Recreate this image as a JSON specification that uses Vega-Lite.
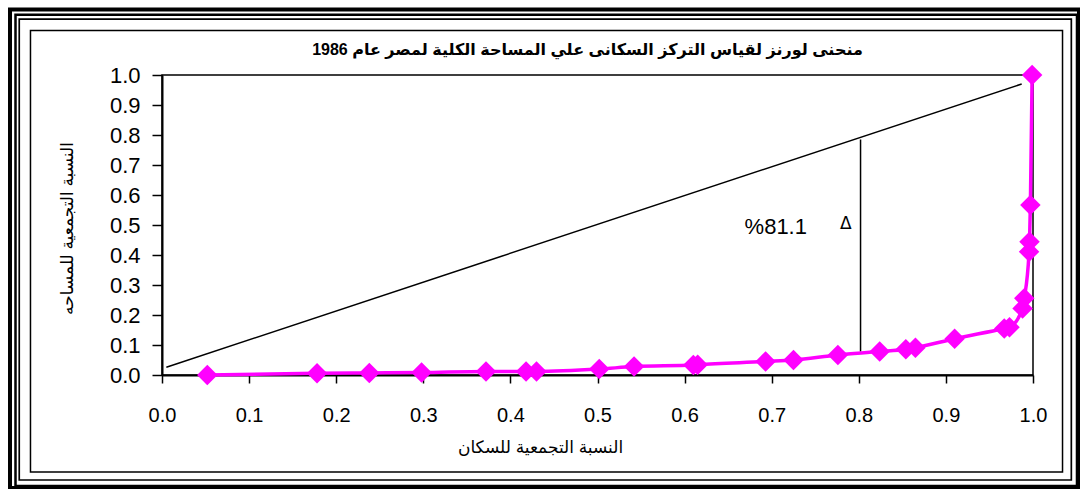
{
  "$schema": "https://vega.github.io/schema/vega-lite/v6.json",
  "width": 871,
  "height": 300,
  "autosize": {"type": "none"},
  "padding": {"left": 162, "top": 75, "right": 47, "bottom": 114},
  "background": "white",
  "title": {
    "text": "منحنى لورنز لقياس التركز السكانى علي المساحة الكلية لمصر عام  1986",
    "font": "Liberation Sans, DejaVu Sans",
    "fontSize": 16,
    "fontWeight": "bold",
    "color": "black",
    "anchor": "middle",
    "frame": "group",
    "baseline": "middle",
    "offset": -58.5,
    "dx": -10
  },
  "datasets": {
    "curve": [
      {"i": 1, "x": 0.052, "y": 0.000},
      {"i": 2, "x": 0.178, "y": 0.006},
      {"i": 3, "x": 0.238, "y": 0.007},
      {"i": 4, "x": 0.298, "y": 0.008},
      {"i": 5, "x": 0.372, "y": 0.012},
      {"i": 6, "x": 0.418, "y": 0.012},
      {"i": 7, "x": 0.430, "y": 0.012},
      {"i": 8, "x": 0.502, "y": 0.020},
      {"i": 9, "x": 0.542, "y": 0.028},
      {"i": 10, "x": 0.610, "y": 0.033},
      {"i": 11, "x": 0.615, "y": 0.034},
      {"i": 12, "x": 0.693, "y": 0.045},
      {"i": 13, "x": 0.725, "y": 0.050},
      {"i": 14, "x": 0.776, "y": 0.067},
      {"i": 15, "x": 0.824, "y": 0.078},
      {"i": 16, "x": 0.854, "y": 0.086},
      {"i": 17, "x": 0.865, "y": 0.091},
      {"i": 18, "x": 0.910, "y": 0.121},
      {"i": 19, "x": 0.967, "y": 0.155},
      {"i": 20, "x": 0.973, "y": 0.159},
      {"i": 21, "x": 0.988, "y": 0.222},
      {"i": 22, "x": 0.990, "y": 0.256},
      {"i": 23, "x": 0.9955, "y": 0.411},
      {"i": 24, "x": 0.996, "y": 0.444},
      {"i": 25, "x": 0.997, "y": 0.567},
      {"i": 26, "x": 0.999, "y": 1.000}
    ],
    "diag": [
      {"x": 0.005, "y": 0.026},
      {"x": 0.987, "y": 0.970}
    ],
    "drop": [
      {"x": 0.802, "y": 0.078, "y2": 0.785}
    ],
    "pct": [
      {"x": 0.7405, "y": 0.493, "label": "%81.1"}
    ],
    "delta": [
      {"x": 0.785, "y": 0.505, "label": "Δ"}
    ]
  },
  "resolve": {"scale": {"x": "independent", "y": "independent"}, "axis": {"x": "independent", "y": "independent"}},
  "layer": [
    {
      "data": {"values": [{}]},
      "mark": {"type": "rect", "filled": false, "stroke": "black", "strokeWidth": 4, "clip": false},
      "encoding": {
        "x": {"datum": -0.1745, "type": "quantitative", "scale": {"domain": [0, 1], "nice": false, "zero": false}, "axis": null},
        "x2": {"datum": 1.0528},
        "y": {"datum": 1.2183, "type": "quantitative", "scale": {"domain": [0, 1], "nice": false, "zero": false}, "axis": null},
        "y2": {"datum": -0.3767}
      }
    },
    {
      "data": {"values": [{}]},
      "mark": {"type": "rect", "filled": false, "stroke": "black", "strokeWidth": 2.5, "clip": false},
      "encoding": {
        "x": {"datum": -0.1682, "type": "quantitative", "scale": {"domain": [0, 1], "nice": false, "zero": false}, "axis": null},
        "x2": {"datum": 1.0505},
        "y": {"datum": 1.2010, "type": "quantitative", "scale": {"domain": [0, 1], "nice": false, "zero": false}, "axis": null},
        "y2": {"datum": -0.37}
      }
    },
    {
      "data": {"values": [{}]},
      "mark": {"type": "rect", "filled": false, "stroke": "black", "strokeWidth": 1.7, "clip": false},
      "encoding": {
        "x": {"datum": -0.1639, "type": "quantitative", "scale": {"domain": [0, 1], "nice": false, "zero": false}, "axis": null},
        "x2": {"datum": 1.0440},
        "y": {"datum": 1.1860, "type": "quantitative", "scale": {"domain": [0, 1], "nice": false, "zero": false}, "axis": null},
        "y2": {"datum": -0.35}
      }
    },
    {
      "data": {"values": [{}]},
      "mark": {"type": "rect", "filled": false, "stroke": "black", "strokeWidth": 1.5, "clip": false},
      "encoding": {
        "x": {"datum": -0.1510, "type": "quantitative", "scale": {"domain": [0, 1], "nice": false, "zero": false}, "axis": null},
        "x2": {"datum": 1.0339},
        "y": {"datum": 1.1483, "type": "quantitative", "scale": {"domain": [0, 1], "nice": false, "zero": false}, "axis": null},
        "y2": {"datum": -0.3233}
      }
    },
    {
      "data": {"name": "diag"},
      "mark": {"type": "line", "color": "black", "strokeWidth": 1.5},
      "encoding": {
        "x": {"field": "x", "type": "quantitative", "scale": {"domain": [0, 1], "nice": false, "zero": false}, "axis": null},
        "y": {"field": "y", "type": "quantitative", "scale": {"domain": [0, 1], "nice": false, "zero": false}, "axis": null}
      }
    },
    {
      "data": {"name": "drop"},
      "mark": {"type": "rule", "color": "black", "strokeWidth": 1.5},
      "encoding": {
        "x": {"field": "x", "type": "quantitative", "scale": {"domain": [0, 1], "nice": false, "zero": false}, "axis": null},
        "y": {"field": "y", "type": "quantitative", "scale": {"domain": [0, 1], "nice": false, "zero": false}, "axis": null},
        "y2": {"field": "y2"}
      }
    },
    {
      "data": {"name": "curve"},
      "mark": {"type": "line", "color": "#FF00FF", "strokeWidth": 3.5, "interpolate": "monotone"},
      "encoding": {
        "x": {
          "field": "x",
          "type": "quantitative",
          "scale": {"domain": [0, 1], "nice": false, "zero": false},
          "axis": {
            "values": [0, 0.1, 0.2, 0.3, 0.4, 0.5, 0.6, 0.7, 0.8, 0.9, 1.0],
            "tickCount": 11,
            "format": ".1f",
            "grid": false,
            "domainColor": "black",
            "domainWidth": 2,
            "tickColor": "black",
            "tickWidth": 1.5,
            "tickSize": 8,
            "labelFont": "Liberation Sans",
            "labelFontSize": 20,
            "labelColor": "black",
            "labelPadding": 22,
            "labelFlush": false,
            "labelOverlap": false,
            "title": "النسبة التجمعية للسكان",
            "titleFont": "Liberation Sans, DejaVu Sans",
            "titleFontSize": 17,
            "titleFontWeight": "normal",
            "titleColor": "black",
            "titleX": 378,
            "titleY": 72,
            "titleBaseline": "middle",
            "titleAlign": "center"
          }
        },
        "y": {
          "field": "y",
          "type": "quantitative",
          "scale": {"domain": [0, 1], "nice": false, "zero": false},
          "axis": {
            "values": [0, 0.1, 0.2, 0.3, 0.4, 0.5, 0.6, 0.7, 0.8, 0.9, 1.0],
            "tickCount": 11,
            "format": ".1f",
            "grid": false,
            "domainColor": "black",
            "domainWidth": 2,
            "tickColor": "black",
            "tickWidth": 1.5,
            "tickSize": 10,
            "labelFont": "Liberation Sans",
            "labelFontSize": 22,
            "labelColor": "black",
            "labelPadding": 12,
            "labelFlush": false,
            "labelOverlap": false,
            "title": "النسبة التجمعية للمساحه",
            "titleFont": "Liberation Sans, DejaVu Sans",
            "titleFontSize": 17,
            "titleFontWeight": "normal",
            "titleColor": "black",
            "titleAngle": 270,
            "titleX": -95,
            "titleY": 153,
            "titleBaseline": "middle",
            "titleAlign": "center"
          }
        },
        "order": {"field": "i", "type": "quantitative"}
      }
    },
    {
      "data": {"name": "curve"},
      "mark": {"type": "point", "shape": "diamond", "filled": true, "color": "#FF00FF", "size": 420, "opacity": 1},
      "encoding": {
        "x": {"field": "x", "type": "quantitative", "scale": {"domain": [0, 1], "nice": false, "zero": false}, "axis": null},
        "y": {"field": "y", "type": "quantitative", "scale": {"domain": [0, 1], "nice": false, "zero": false}, "axis": null}
      }
    },
    {
      "data": {"name": "pct"},
      "mark": {"type": "text", "font": "Liberation Sans", "fontSize": 22, "color": "black", "align": "right", "baseline": "middle"},
      "encoding": {
        "x": {"field": "x", "type": "quantitative", "scale": {"domain": [0, 1], "nice": false, "zero": false}, "axis": null},
        "y": {"field": "y", "type": "quantitative", "scale": {"domain": [0, 1], "nice": false, "zero": false}, "axis": null},
        "text": {"field": "label"}
      }
    },
    {
      "data": {"name": "delta"},
      "mark": {"type": "text", "font": "DejaVu Sans", "fontSize": 17, "fontWeight": "normal", "color": "black", "align": "center", "baseline": "middle"},
      "encoding": {
        "x": {"field": "x", "type": "quantitative", "scale": {"domain": [0, 1], "nice": false, "zero": false}, "axis": null},
        "y": {"field": "y", "type": "quantitative", "scale": {"domain": [0, 1], "nice": false, "zero": false}, "axis": null},
        "text": {"field": "label"}
      }
    }
  ],
  "config": {
    "view": {"stroke": "black", "strokeWidth": 1.5},
    "font": "Liberation Sans, DejaVu Sans"
  }
}
